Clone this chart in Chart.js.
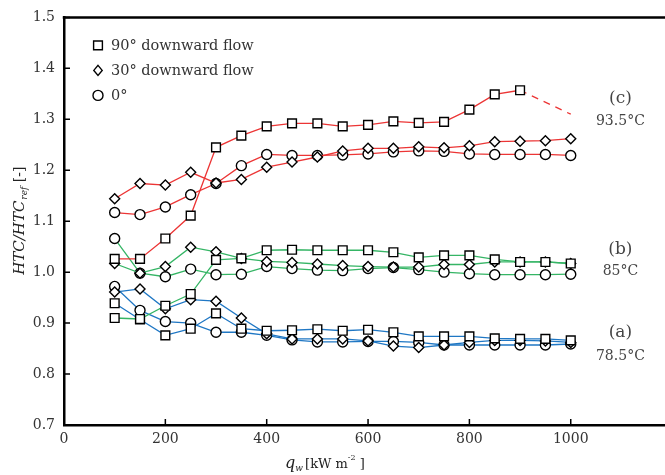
<!DOCTYPE html>
<html>
<head>
<meta charset="utf-8">
<title>HTC ratio vs heat flux</title>
<script src="https://cdn.jsdelivr.net/npm/chart.js@4.4.1/dist/chart.umd.min.js"></script>
<style>
  html, body { margin: 0; padding: 0; background: #fff; overflow: hidden; }
  #wrap { width: 665px; height: 475px; position: relative; }
</style>
</head>
<body>
<div id="wrap"><canvas id="chart" width="665" height="475"></canvas></div>
<script>
// Wall heat flux q_w [kW m^-2]
const heatFlux = [100, 150, 200, 250, 300, 350, 400, 450, 500, 550, 600, 650, 700, 750, 800, 850, 900, 950, 1000];

// (c) 93.5 °C
const c90 = [1.026, 1.026, 1.066, 1.111, 1.245, 1.268, 1.286, 1.292, 1.292, 1.286, 1.289, 1.296, 1.293, 1.295, 1.319, 1.349, 1.357, null, null];
const c90Trend = [null, null, null, null, null, null, null, null, null, null, null, null, null, null, null, null, 1.357, null, 1.310];
const c30 = [1.144, 1.174, 1.171, 1.196, 1.175, 1.182, 1.206, 1.216, 1.226, 1.238, 1.243, 1.243, 1.246, 1.244, 1.248, 1.256, 1.257, 1.258, 1.262];
const c0  = [1.117, 1.113, 1.128, 1.152, 1.174, 1.209, 1.231, 1.229, 1.229, 1.230, 1.232, 1.236, 1.238, 1.237, 1.232, 1.231, 1.231, 1.231, 1.229];

// (b) 85 °C
const b90 = [0.910, 0.908, 0.934, 0.957, 1.024, 1.027, 1.043, 1.044, 1.043, 1.043, 1.043, 1.039, 1.029, 1.033, 1.033, 1.025, 1.020, 1.020, 1.017];
const b30 = [1.017, 0.998, 1.011, 1.049, 1.040, 1.027, 1.021, 1.019, 1.016, 1.013, 1.011, 1.010, 1.010, 1.015, 1.015, 1.020, 1.020, 1.020, 1.017];
const b0  = [1.066, 0.998, 0.991, 1.006, 0.995, 0.996, 1.011, 1.007, 1.004, 1.003, 1.007, 1.009, 1.005, 1.000, 0.997, 0.995, 0.995, 0.995, 0.996];

// (a) 78.5 °C
const a90 = [0.939, 0.907, 0.876, 0.889, 0.919, 0.889, 0.885, 0.886, 0.888, 0.885, 0.887, 0.882, 0.874, 0.874, 0.874, 0.870, 0.869, 0.869, 0.866];
const a30 = [0.961, 0.967, 0.928, 0.946, 0.943, 0.910, 0.879, 0.869, 0.869, 0.869, 0.865, 0.855, 0.852, 0.857, 0.862, 0.866, 0.866, 0.865, 0.862];
const a0  = [0.972, 0.925, 0.903, 0.900, 0.882, 0.882, 0.876, 0.867, 0.863, 0.863, 0.864, 0.864, 0.862, 0.857, 0.857, 0.857, 0.857, 0.857, 0.859];

// Axis ticks
const xTicks = [0, 200, 400, 600, 800, 1000];
const yTicks = [0.7, 0.8, 0.9, 1.0, 1.1, 1.2, 1.3, 1.4, 1.5];

// Legend entries and group captions
const legendLabels = ['90° downward flow', '30° downward flow', '0°'];
const groupNames = ['(c)', '(b)', '(a)'];
const groupTemps = ['93.5°C', '85°C', '78.5°C'];

const RED = '#ec3535', GREEN = '#35b565', BLUE = '#1f77c4';
const SERIF = '"DejaVu Serif", serif';

function pts(arr) {
  return heatFlux.map((q, i) => ({ x: q, y: arr[i] })).filter(p => p.y !== null);
}
function series(arr, color, style, radius) {
  return {
    data: pts(arr),
    borderColor: color,
    borderWidth: 1.3,
    pointStyle: style,
    pointRadius: radius,
    pointHoverRadius: radius,
    pointBackgroundColor: '#fff',
    pointBorderColor: '#000',
    pointBorderWidth: 1.4,
    tension: 0,
    fill: false
  };
}

const datasets = [
  series(c90, RED, 'rect', 6.2), series(c30, RED, 'rectRot', 5), series(c0, RED, 'circle', 5),
  series(b90, GREEN, 'rect', 6.2), series(b30, GREEN, 'rectRot', 5), series(b0, GREEN, 'circle', 5),
  series(a90, BLUE, 'rect', 6.2), series(a30, BLUE, 'rectRot', 5), series(a0, BLUE, 'circle', 5),
  Object.assign(series(c90Trend, RED, 'circle', 0), { borderDash: [7, 6], pointRadius: 0 })
];

// Marker drawing shared by the legend
function marker(ctx, style, x, y) {
  ctx.save();
  ctx.fillStyle = '#fff';
  ctx.strokeStyle = '#000';
  ctx.lineWidth = 1.4;
  ctx.beginPath();
  if (style === 'rect') {
    ctx.rect(x - 4.4, y - 4.4, 8.8, 8.8);
  } else if (style === 'rectRot') {
    ctx.moveTo(x, y - 5); ctx.lineTo(x + 4.2, y); ctx.lineTo(x, y + 5); ctx.lineTo(x - 4.2, y); ctx.closePath();
  } else {
    ctx.arc(x, y, 5, 0, Math.PI * 2);
  }
  ctx.fill();
  ctx.stroke();
  ctx.restore();
}

const decorations = {
  id: 'decorations',
  afterDraw(chart) {
    const { ctx, chartArea: a, scales: { x, y } } = chart;
    ctx.save();
    // top frame line
    ctx.strokeStyle = '#000';
    ctx.lineWidth = 2.5;
    ctx.beginPath();
    ctx.moveTo(a.left - 1.25, a.top);
    ctx.lineTo(chart.width, a.top);
    ctx.stroke();
    // inward tick marks
    ctx.lineWidth = 1.5;
    ctx.beginPath();
    x.ticks.forEach(t => {
      const px = x.getPixelForValue(t.value);
      if (px <= a.left + 1) return;
      ctx.moveTo(px, a.bottom); ctx.lineTo(px, a.bottom - 6);
    });
    y.ticks.forEach(t => {
      const py = y.getPixelForValue(t.value);
      if (py >= a.bottom - 1) return;
      ctx.moveTo(a.left, py); ctx.lineTo(a.left + 6, py);
    });
    ctx.stroke();

    // legend
    const styles = ['rect', 'rectRot', 'circle'];
    ctx.font = '14.5px ' + SERIF;
    ctx.fillStyle = '#333';
    ctx.textAlign = 'left';
    ctx.textBaseline = 'middle';
    legendLabels.forEach((lab, i) => {
      const ly = a.top + 28 + i * 25;
      marker(ctx, styles[i], a.left + 34, ly);
      ctx.fillText(lab, a.left + 47, ly + 1);
    });

    // group captions on the right
    const capX = x.getPixelForValue(1098);
    const capY = [[1.340, 1.296], [1.044, 1.001], [0.882, 0.835]];
    ctx.textAlign = 'center';
    groupNames.forEach((g, i) => {
      ctx.font = '17px ' + SERIF;
      ctx.fillStyle = '#444';
      ctx.fillText(g, capX, y.getPixelForValue(capY[i][0]));
      ctx.font = '14px ' + SERIF;
      ctx.fillText(groupTemps[i], capX, y.getPixelForValue(capY[i][1]));
    });

    // y-axis title: HTC/HTC_ref [-]
    ctx.save();
    ctx.translate(20, (a.top + a.bottom) / 2);
    ctx.rotate(-Math.PI / 2);
    ctx.fillStyle = '#222';
    ctx.textBaseline = 'middle';
    ctx.textAlign = 'left';
    const p1 = 'HTC/HTC', p2 = 'ref', p3 = ' [-]';
    ctx.font = 'italic 15px ' + SERIF;
    const w1 = ctx.measureText(p1).width;
    ctx.font = 'italic 9px ' + SERIF;
    const w2 = ctx.measureText(p2).width;
    ctx.font = '14px ' + SERIF;
    const w3 = ctx.measureText(p3).width;
    let sx = -(w1 + w2 + w3) / 2;
    ctx.font = 'italic 15px ' + SERIF;
    ctx.fillText(p1, sx, 0); sx += w1;
    ctx.font = 'italic 9px ' + SERIF;
    ctx.fillText(p2, sx + 1, 5); sx += w2 + 1;
    ctx.font = '14px ' + SERIF;
    ctx.fillText(p3, sx, 0);
    ctx.restore();

    // x-axis title: q_w [kW m^-2]
    ctx.save();
    ctx.fillStyle = '#222';
    ctx.textBaseline = 'alphabetic';
    ctx.textAlign = 'left';
    const cx = x.getPixelForValue(515);
    const base = 468;
    ctx.font = 'italic 16px ' + SERIF;
    const q = 'q';
    const wq = ctx.measureText(q).width;
    ctx.font = 'italic 9px ' + SERIF;
    const ww = ctx.measureText('w').width;
    ctx.font = '13px ' + SERIF;
    const wa = ctx.measureText('[kW m').width;
    ctx.font = '8px ' + SERIF;
    const ws = ctx.measureText('-2').width;
    ctx.font = '13px ' + SERIF;
    const wb = ctx.measureText(' ]').width;
    let tx = cx - (wq + ww + wa + ws + wb + 2) / 2;
    ctx.font = 'italic 16px ' + SERIF; ctx.fillText(q, tx, base); tx += wq;
    ctx.font = 'italic 9px ' + SERIF; ctx.fillText('w', tx, base + 3); tx += ww + 2;
    ctx.font = '13px ' + SERIF; ctx.fillText('[kW m', tx, base); tx += wa;
    ctx.font = '8px ' + SERIF; ctx.fillText('-2', tx, base - 8); tx += ws;
    ctx.font = '13px ' + SERIF; ctx.fillText(' ]', tx, base);
    ctx.restore();

    ctx.restore();
  }
};

new Chart(document.getElementById('chart'), {
  type: 'line',
  data: { datasets },
  options: {
    responsive: false,
    animation: false,
    devicePixelRatio: 1,
    layout: { autoPadding: false, padding: { top: 16, right: 0, left: 0, bottom: 0 } },
    plugins: { legend: { display: false }, tooltip: { enabled: false } },
    scales: {
      x: {
        type: 'linear',
        min: 0,
        max: 1186,
        afterBuildTicks: s => { s.ticks = xTicks.map(v => ({ value: v })); },
        afterFit: s => { s.height = 50; },
        grid: { display: false, drawTicks: false },
        border: { display: true, color: '#000', width: 2.5 },
        ticks: { padding: 6, color: '#333', font: { family: SERIF, size: 14 }, maxRotation: 0, callback: v => String(v) }
      },
      y: {
        type: 'linear',
        min: 0.7,
        max: 1.5,
        afterBuildTicks: s => { s.ticks = yTicks.map(v => ({ value: v })); },
        afterFit: s => { s.width = 64; },
        grid: { display: false, drawTicks: false },
        border: { display: true, color: '#000', width: 2.5 },
        ticks: { padding: 9, color: '#333', font: { family: SERIF, size: 14 }, callback: v => Number(v).toFixed(1) }
      }
    }
  },
  plugins: [decorations]
});
</script>
</body>
</html>
